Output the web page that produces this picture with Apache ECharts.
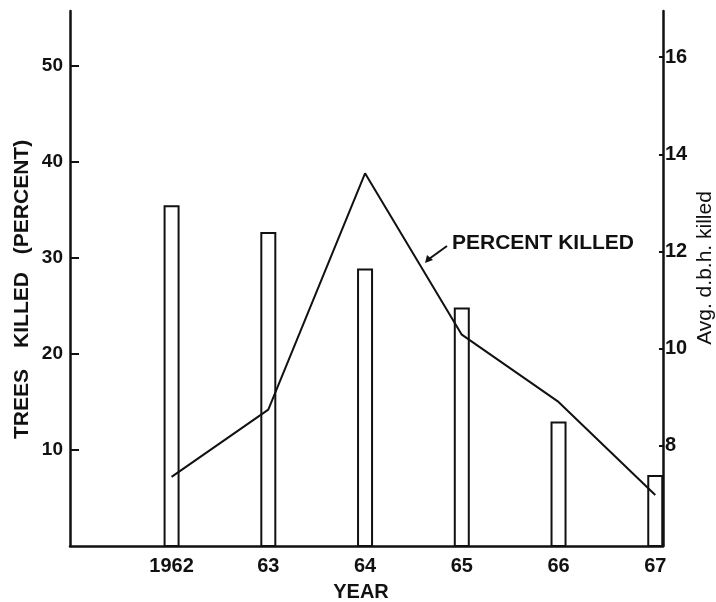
<!DOCTYPE html>
<html>
<head>
<meta charset="utf-8">
<script src="https://cdn.jsdelivr.net/npm/echarts@6/dist/echarts.min.js"></script>
<style>
  html, body { margin: 0; padding: 0; background: #fff; }
  #chart { width: 716px; height: 602px; }
</style>
</head>
<body>
<div id="chart"></div>
<script>
  // years on the x axis
  var years = [1962, 1963, 1964, 1965, 1966, 1967];
  var yearLabels = ['1962', '63', '64', '65', '66', '67'];
  // percent of trees killed (left axis, line)
  var percentKilled = [7.2, 14.2, 38.8, 22.0, 15.0, 5.3];
  // average d.b.h. of killed trees (right axis, bars)
  var avgDbh = [12.95, 12.4, 11.65, 10.85, 8.5, 7.4];
  var leftTicks = [10, 20, 30, 40, 50];
  var rightTicks = [8, 10, 12, 14, 16];

  var font = 'Liberation Sans';

  function pairs(xs, ys) {
    var out = [];
    for (var i = 0; i < xs.length; i++) {
      out.push([xs[i], ys[i]]);
    }
    return out;
  }

  var chart = echarts.init(document.getElementById('chart'));

  var option = {
    animation: false,
    backgroundColor: '#fff',
    grid: { left: 70, right: 53, top: 11, bottom: 56 },
    xAxis: {
      type: 'value',
      min: 1960.95,
      max: 1967.08,
      axisLine: { show: true, lineStyle: { color: '#111', width: 2.5 } },
      axisTick: { show: false },
      splitLine: { show: false },
      axisLabel: {
        customValues: years,
        fontFamily: font, fontWeight: 'bold', fontSize: 20, color: '#111', margin: 10,
        formatter: function (v) {
          var i = years.indexOf(Math.round(v));
          return i >= 0 ? yearLabels[i] : '';
        }
      }
    },
    yAxis: [{
      type: 'value',
      min: 0,
      max: 55.7,
      position: 'left',
      axisLine: { show: true, lineStyle: { color: '#111', width: 2.5 } },
      axisTick: { show: true, inside: true, length: 9, customValues: leftTicks, lineStyle: { color: '#111', width: 2 } },
      splitLine: { show: false },
      axisLabel: {
        customValues: leftTicks,
        fontFamily: font, fontWeight: 'bold', fontSize: 19, color: '#111', margin: 7
      }
    }, {
      type: 'value',
      min: 5.94,
      max: 16.95,
      position: 'right',
      axisLine: { show: true, lineStyle: { color: '#111', width: 2.5 } },
      axisTick: { show: true, inside: true, length: 4, customValues: rightTicks, lineStyle: { color: '#111', width: 2 } },
      splitLine: { show: false },
      axisLabel: {
        customValues: rightTicks,
        fontFamily: font, fontWeight: 'bold', fontSize: 20, color: '#111', margin: 2
      }
    }],
    series: [{
      name: 'Avg. d.b.h. killed',
      type: 'bar',
      yAxisIndex: 1,
      barWidth: 16,
      clip: true,
      itemStyle: { color: '#fff', borderColor: '#111', borderWidth: 2 },
      data: pairs(years, avgDbh),
      z: 2
    }, {
      name: 'PERCENT KILLED',
      type: 'line',
      yAxisIndex: 0,
      showSymbol: false,
      symbol: 'none',
      lineStyle: { color: '#111', width: 2 },
      data: pairs(years, percentKilled),
      z: 3
    }],
    graphic: [
      // left axis title, one word at a time for the wide spacing
      { type: 'text', x: 22, y: 404, rotation: Math.PI / 2,
        style: { text: 'TREES', font: 'bold 21px "Liberation Sans"', fill: '#111', align: 'center', verticalAlign: 'middle' } },
      { type: 'text', x: 22, y: 310, rotation: Math.PI / 2,
        style: { text: 'KILLED', font: 'bold 21px "Liberation Sans"', fill: '#111', align: 'center', verticalAlign: 'middle' } },
      { type: 'text', x: 22, y: 197, rotation: Math.PI / 2,
        style: { text: '(PERCENT)', font: 'bold 21px "Liberation Sans"', fill: '#111', align: 'center', verticalAlign: 'middle' } },
      { type: 'text', x: 705, y: 268, rotation: Math.PI / 2,
        style: { text: 'Avg. d.b.h. killed', font: '21px "Liberation Sans"', fill: '#111', align: 'center', verticalAlign: 'middle' } },
      { type: 'text', x: 361, y: 592,
        style: { text: 'YEAR', font: 'bold 20px "Liberation Sans"', fill: '#111', align: 'center', verticalAlign: 'middle' } },
      { type: 'text', x: 452, y: 243,
        style: { text: 'PERCENT KILLED', font: 'bold 21px "Liberation Sans"', fill: '#111', align: 'left', verticalAlign: 'middle' } },
      { type: 'line', shape: { x1: 447, y1: 246, x2: 429, y2: 259 },
        style: { stroke: '#111', lineWidth: 2 } },
      { type: 'polygon', shape: { points: [[425, 263], [427, 255], [433, 260]] },
        style: { fill: '#111' } }
    ]
  };

  chart.setOption(option);
</script>
</body>
</html>
